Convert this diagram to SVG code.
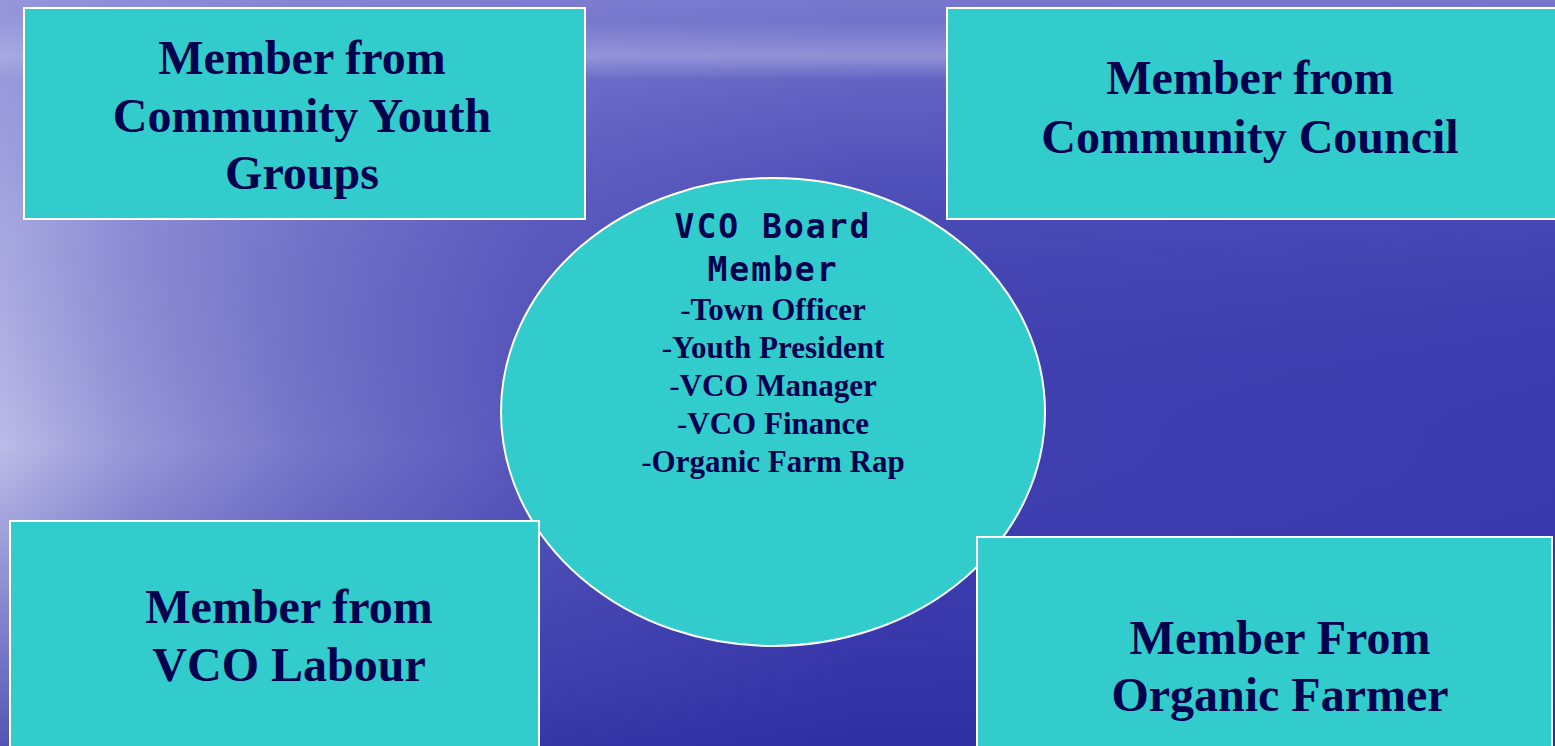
<svg xmlns="http://www.w3.org/2000/svg" width="1555" height="746" viewBox="0 0 1555 746">
<defs>
<linearGradient id="bgx" x1="0" y1="0" x2="1" y2="0">
<stop offset="0" stop-color="#bcbce8"/>
<stop offset="0.08" stop-color="#9898d8"/>
<stop offset="0.2" stop-color="#7474c8"/>
<stop offset="0.35" stop-color="#5454ba"/>
<stop offset="0.55" stop-color="#4040b0"/>
<stop offset="1" stop-color="#3a3aae"/>
</linearGradient>
<linearGradient id="bgy" x1="0" y1="0" x2="0" y2="1">
<stop offset="0" stop-color="#8a8ad8" stop-opacity="0.75"/>
<stop offset="0.3" stop-color="#6a6ac8" stop-opacity="0.25"/>
<stop offset="0.6" stop-color="#3a3aae" stop-opacity="0"/>
<stop offset="1" stop-color="#28289e" stop-opacity="0.7"/>
</linearGradient>
<linearGradient id="band" x1="0" y1="0" x2="0" y2="1">
<stop offset="0" stop-color="#b8b8e8" stop-opacity="0"/>
<stop offset="0.6" stop-color="#b8b8e8" stop-opacity="0.5"/>
<stop offset="1" stop-color="#b8b8e8" stop-opacity="0"/>
</linearGradient>
<style>
.box{fill:#33cccc;stroke:#ffffff;stroke-width:2}
.t{font-family:"Liberation Serif","Times New Roman",serif;font-weight:bold;font-size:48px;fill:#00004f;text-anchor:middle}
.m{font-family:"DejaVu Sans Mono","Liberation Mono",monospace;font-weight:bold;font-size:33px;letter-spacing:2px;fill:#00004f;text-anchor:middle}
.b{font-family:"Liberation Serif","Times New Roman",serif;font-weight:bold;font-size:31px;fill:#00004f;text-anchor:middle}
.h{font-weight:normal}
</style>
</defs>
<rect width="1555" height="746" fill="url(#bgx)"/>
<rect width="1555" height="746" fill="url(#bgy)"/>
<rect x="0" y="20" width="1555" height="60" fill="url(#band)"/>
<g id="connectors"/>
<g id="center">
<ellipse cx="773" cy="412" rx="272" ry="234" class="box"/>
<text class="m" x="773" y="238">VCO Board</text>
<text class="m" x="773" y="281">Member</text>
<text class="b" x="773" y="320"><tspan class="h">-</tspan>Town Officer</text>
<text class="b" x="773" y="358"><tspan class="h">-</tspan>Youth President</text>
<text class="b" x="773" y="396"><tspan class="h">-</tspan>VCO Manager</text>
<text class="b" x="773" y="434"><tspan class="h">-</tspan>VCO Finance</text>
<text class="b" x="773" y="472"><tspan class="h">-</tspan>Organic Farm Rap</text>
</g>
<g id="youth">
<rect x="24" y="8" width="561" height="211" class="box"/>
<text class="t" x="302" y="74">Member from</text>
<text class="t" x="302" y="132">Community Youth</text>
<text class="t" x="302" y="189">Groups</text>
</g>
<g id="council">
<rect x="947" y="8" width="620" height="211" class="box"/>
<text class="t" x="1250" y="94">Member from</text>
<text class="t" x="1250" y="153">Community Council</text>
</g>
<g id="labour">
<rect x="10" y="521" width="529" height="240" class="box"/>
<text class="t" x="289" y="623">Member from</text>
<text class="t" x="289" y="681">VCO Labour</text>
</g>
<g id="farmer">
<rect x="977" y="537" width="575" height="220" class="box"/>
<text class="t" x="1280" y="654">Member From</text>
<text class="t" x="1280" y="711">Organic Farmer</text>
</g>
</svg>
